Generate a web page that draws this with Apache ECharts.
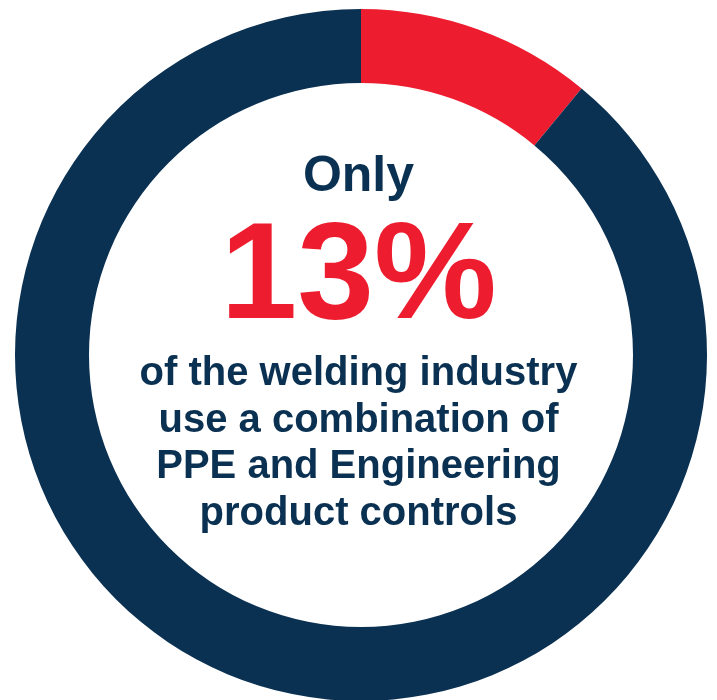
<!DOCTYPE html>
<html>
<head>
<meta charset="utf-8">
<script src="https://cdn.jsdelivr.net/npm/echarts@6/dist/echarts.min.js"></script>
<style>
html,body{margin:0;padding:0;background:#fff;}
#chart{width:717px;height:700px;}
</style>
</head>
<body>
<div id="chart"></div>
<script>
// slices as drawn in the ring (red arc covers about 40 degrees)
var sliceNames = ['PPE + Engineering controls', 'Other'];
var sliceValues = [11, 89];
var sliceColors = ['#ed1c2e', '#0b3152'];

var headWord = 'Only';
var bigValue = '13%';
var bodyLines = [
	'of the welding industry',
	'use a combination of',
	'PPE and Engineering',
	'product controls'
];

var navy = '#0b3152';
var red = '#ed1c2e';

var chart = echarts.init(document.getElementById('chart'));

var pieData = [];
for (var i = 0; i < sliceValues.length; i++) {
	pieData.push({
		name: sliceNames[i],
		value: sliceValues[i],
		itemStyle: {color: sliceColors[i]}
	});
}

// center texts
var texts = [];
texts.push({
	type: 'text', left: 'center', top: 152,
	style: {text: headWord, fill: navy, font: 'bold 50px "Liberation Sans"'}
});
texts.push({
	type: 'text', left: 'center', top: 211,
	style: {text: bigValue, fill: red, font: 'bold 138px "Liberation Sans"'}
});
var lineTop = 354;
for (var j = 0; j < bodyLines.length; j++) {
	texts.push({
		type: 'text', left: 'center', top: lineTop + j * 46.7,
		style: {text: bodyLines[j], fill: navy, font: 'bold 40px "Liberation Sans"'}
	});
}

var option = {
	animation: false,
	backgroundColor: '#fff',
	series: [{
		type: 'pie',
		center: [361, 355],
		radius: [272, 346],
		startAngle: 90,
		clockwise: true,
		silent: true,
		label: {show: false},
		labelLine: {show: false},
		data: pieData
	}],
	graphic: texts
};

chart.setOption(option);
</script>
</body>
</html>
